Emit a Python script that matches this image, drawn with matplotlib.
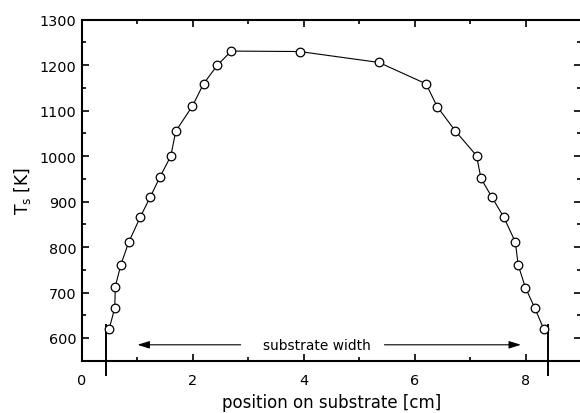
import matplotlib
matplotlib.use("Agg")
import matplotlib.pyplot as plt
from matplotlib.ticker import MultipleLocator

plt.rcParams['font.family'] = ['DejaVu Sans']

position = [0.49, 0.59, 0.60, 0.70, 0.84, 1.05, 1.23, 1.40, 1.60, 1.69, 1.99, 2.19, 2.44, 2.69,
            3.92, 5.35, 6.20, 6.40, 6.73, 7.11, 7.19, 7.39, 7.60, 7.81, 7.86, 7.99, 8.16, 8.32]
temperature = [620, 666, 713, 761, 810, 866, 910, 953, 1000, 1055, 1110, 1159, 1200, 1231,
               1230, 1206, 1159, 1109, 1055, 1001, 951, 909, 866, 811, 761, 711, 666, 620]

edge_left = 0.44
edge_right = 8.40
edge_top = 628
edge_bottom = 518
arrow_y = 585
arrow_left = (2.86, 1.0)
arrow_right = (5.45, 7.91)
label_text = "substrate width"
label_x = 4.24

fig = plt.figure(figsize=(5.8, 4.14), dpi=100)
ax = fig.add_axes([0.1414, 0.1263, 0.861, 0.8237])

ax.plot(position, temperature, color='black', lw=0.8, marker='o', ms=6.2,
        mfc='white', mec='black', mew=0.9, zorder=3)

for xe in (edge_left, edge_right):
    ax.plot([xe, xe], [edge_bottom, edge_top], color='black', lw=1.4, clip_on=False, zorder=2)

ax.annotate('', xy=(arrow_left[1], arrow_y), xytext=(arrow_left[0], arrow_y),
            arrowprops=dict(arrowstyle='-|>,head_length=0.8,head_width=0.25', color='black', lw=0.8,
                            mutation_scale=9, shrinkA=0, shrinkB=0))
ax.annotate('', xy=(arrow_right[1], arrow_y), xytext=(arrow_right[0], arrow_y),
            arrowprops=dict(arrowstyle='-|>,head_length=0.8,head_width=0.25', color='black', lw=0.8,
                            mutation_scale=9, shrinkA=0, shrinkB=0))
ax.text(label_x, arrow_y, label_text, ha='center', va='center', fontsize=9.9)

ax.set_xlim(0, 9)
ax.set_ylim(550, 1300)
ax.xaxis.set_major_locator(MultipleLocator(2))
ax.xaxis.set_minor_locator(MultipleLocator(1))
ax.yaxis.set_major_locator(MultipleLocator(100))
ax.yaxis.set_minor_locator(MultipleLocator(50))
ax.tick_params(which='both', direction='in', top=True, right=True, width=1.2, labelsize=10.4)
ax.tick_params(which='major', length=5)
ax.tick_params(which='minor', length=3)
ax.tick_params(axis='x', pad=9)
ax.tick_params(axis='y', pad=4)
for s in ax.spines.values():
    s.set_linewidth(1.5)

ax.set_xlabel('position on substrate [cm]', fontsize=12.0, labelpad=4)
ax.set_ylabel(r'T$_{\rm s}$ [K]', fontsize=12.3, labelpad=5)

fig.savefig('out.png', dpi=100)
